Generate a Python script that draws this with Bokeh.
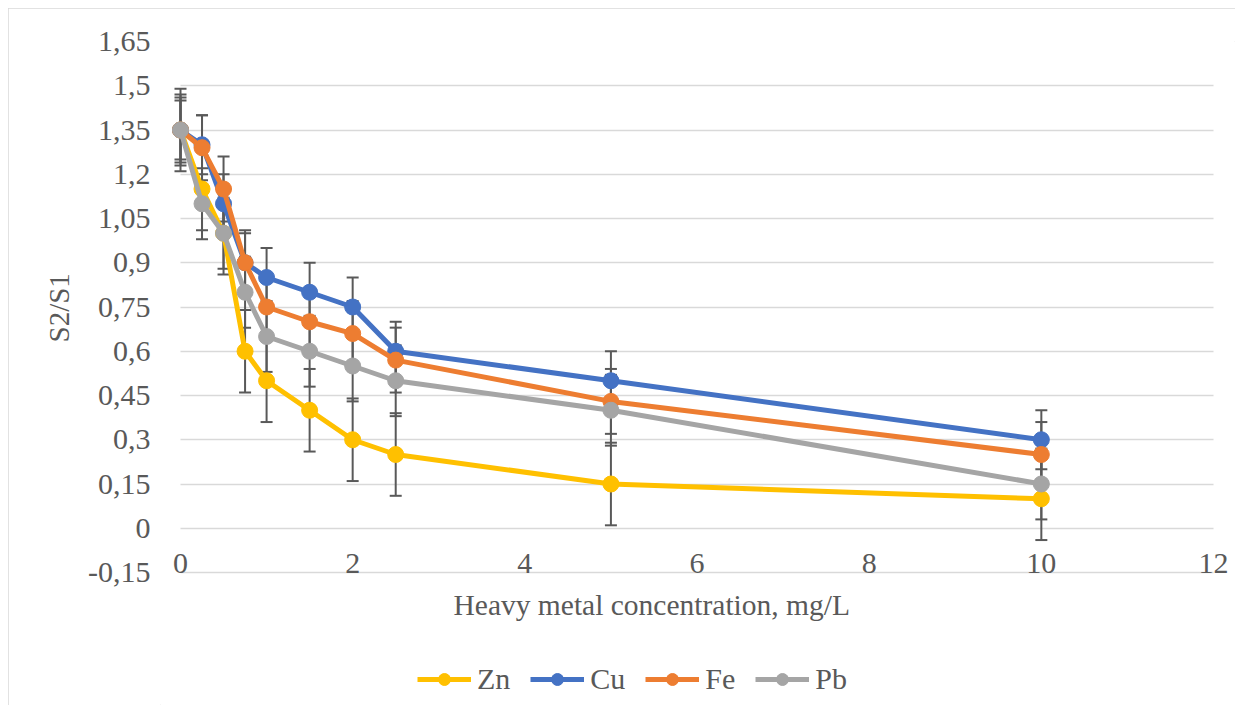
from bokeh.plotting import figure
from bokeh.models import (ColumnDataSource, Whisker, TeeHead, Legend, LegendItem,
                          FixedTicker, CustomJSTickFormatter, Range1d, Title, Label)
from bokeh.embed import file_html
from bokeh.resources import INLINE
import numpy as np

# ---- data ----
conc = [0, 0.25, 0.5, 0.75, 1, 1.5, 2, 2.5, 5, 10]
zn = [1.35, 1.15, 1.00, 0.60, 0.50, 0.40, 0.30, 0.25, 0.15, 0.10]
cu = [1.35, 1.30, 1.10, 0.90, 0.85, 0.80, 0.75, 0.60, 0.50, 0.30]
fe = [1.35, 1.29, 1.15, 0.90, 0.75, 0.70, 0.66, 0.57, 0.43, 0.25]
pb = [1.35, 1.10, 1.00, 0.80, 0.65, 0.60, 0.55, 0.50, 0.40, 0.15]
err = {"Zn": 0.14, "Cu": 0.10, "Fe": 0.11, "Pb": 0.12}
names = ["Zn", "Cu", "Fe", "Pb"]
colors = {"Zn": "#FFC000", "Cu": "#4472C4", "Fe": "#ED7D31", "Pb": "#A5A5A5"}
y_ticks = [-0.15, 0, 0.15, 0.3, 0.45, 0.6, 0.75, 0.9, 1.05, 1.2, 1.35, 1.5, 1.65]
x_ticks = [0, 2, 4, 6, 8, 10, 12]
series = {"Zn": zn, "Cu": cu, "Fe": fe, "Pb": pb}
y_label = "S2/S1"
x_label = "Heavy metal concentration, mg/L"

FONT = "Liberation Serif"
TXT = "#595959"

# layout: frame extends beyond the plotted area so that edge labels, the
# x title and the legend can live inside it; gridlines are bounded to 0..12
PAD_L, PAD_R = 20, 22
PLOT_W = 1033
FRAME_W, FRAME_H = PLOT_W + PAD_L + PAD_R, 664
PX_X = PLOT_W / (x_ticks[-1] - x_ticks[0])
PX_Y = 295.0
y_top = y_ticks[-1]
y_bottom = y_top - FRAME_H / PX_Y
x_start = x_ticks[0] - PAD_L / PX_X
x_end = x_ticks[-1] + PAD_R / PX_X

p = figure(frame_width=FRAME_W, frame_height=FRAME_H, output_backend="svg", toolbar_location=None,
           x_range=Range1d(x_start, x_end), y_range=Range1d(y_bottom, y_top),
           min_border_left=152, min_border_right=0, min_border_top=33, min_border_bottom=0)
p.styles = {"margin-left": "8px", "margin-top": "8px",
            "outline": "1px solid #d9d9d9", "outline-offset": "-1px"}
p.outline_line_color = None
p.background_fill_color = "white"
p.border_fill_color = "white"

p.xgrid.visible = False
p.ygrid.grid_line_color = "#d9d9d9"
p.ygrid.grid_line_width = 1.3
p.ygrid.cross_bounds = (x_ticks[0], x_ticks[-1])
p.yaxis.ticker = FixedTicker(ticks=y_ticks)
p.xaxis.ticker = FixedTicker(ticks=x_ticks)
p.yaxis.formatter = CustomJSTickFormatter(code="return tick.toString().replace('.', ',');")

for ax in (p.xaxis[0], p.yaxis[0]):
    ax.axis_line_color = None
    ax.major_tick_line_color = None
    ax.minor_tick_line_color = None
    ax.major_tick_out = 0
    ax.major_tick_in = 0
    ax.major_label_text_font = FONT
    ax.major_label_text_font_size = "30px"
    ax.major_label_text_color = TXT

p.yaxis.major_label_standoff = 10
p.xaxis.fixed_location = y_ticks[0]
p.xaxis.major_label_standoff = -19

ytitle = Title(text=y_label, align="left", offset=363,
               text_font=FONT, text_font_size="29px", text_color=TXT,
               text_font_style="normal", standoff=21)
p.add_layout(ytitle, "left")

xtitle = Label(x=273 + PAD_L, y=101, x_units="screen", y_units="screen", text=x_label,
               text_font=FONT, text_font_size="29.5px", text_color=TXT,
               text_align="left", text_baseline="middle")
p.add_layout(xtitle)

# error bars (behind)
for n in names:
    v = np.array(series[n])
    src = ColumnDataSource(dict(x=conc, upper=v + err[n], lower=v - err[n]))
    w = Whisker(base="x", upper="upper", lower="lower", source=src,
                line_color="#595959", line_width=2,
                upper_head=TeeHead(size=12, line_color="#595959", line_width=2),
                lower_head=TeeHead(size=12, line_color="#595959", line_width=2),
                level="underlay")
    p.add_layout(w)

items = []
for n in names:
    src = ColumnDataSource(dict(x=conc, y=series[n]))
    l = p.line("x", "y", source=src, line_color=colors[n], line_width=5)
    s = p.scatter("x", "y", source=src, size=16, fill_color=colors[n], line_color=colors[n])
    items.append(LegendItem(label=n, renderers=[l, s]))

legend = Legend(items=items, orientation="horizontal", location=(237 + PAD_L, 9),
                border_line_color=None, background_fill_alpha=0,
                label_text_font=FONT, label_text_font_size="30px", label_text_color=TXT,
                glyph_width=54, glyph_height=30, label_height=30, label_standoff=6,
                spacing=20, padding=0, margin=0)
p.add_layout(legend, "center")

open("out.html", "w").write(file_html(p, INLINE))
